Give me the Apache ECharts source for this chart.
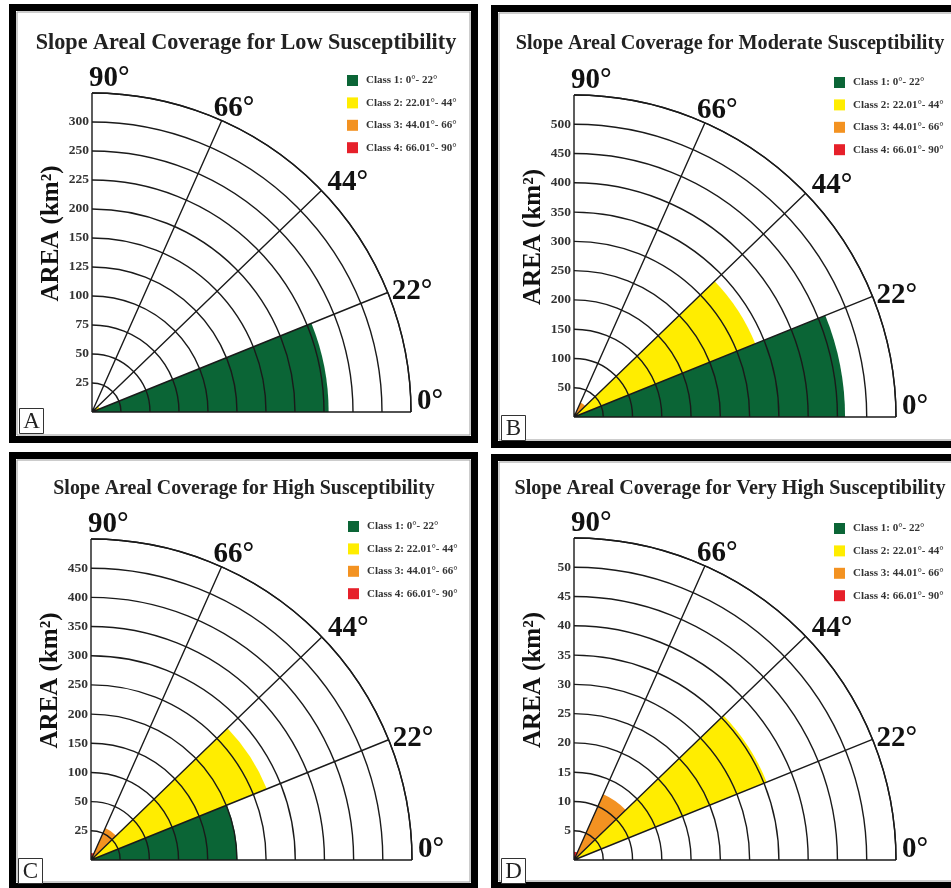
<!DOCTYPE html>
<html>
<head>
<meta charset="utf-8">
<title>Slope Areal Coverage</title>
<script src="https://cdn.jsdelivr.net/npm/echarts@6/dist/echarts.min.js"></script>
<style>
  html, body { margin: 0; padding: 0; background: #ffffff; }
  #chart { width: 951px; height: 888px; }
</style>
</head>
<body>
<div id="chart"></div>
<script>
// ---- data ----------------------------------------------------------------
const classNames = ['Class 1: 0°- 22°', 'Class 2: 22.01°- 44°', 'Class 3: 44.01°- 66°', 'Class 4: 66.01°- 90°'];
const classColors = ['#0b6536', '#ffed00', '#f39221', '#e6202a'];
const classAngles = [[0, 22], [22, 44], [44, 66], [66, 90]];
const spokeAngles = [0, 22, 44, 66, 90];

const panelTitles = [
  'Slope Areal Coverage for Low Susceptibility',
  'Slope Areal Coverage for Moderate Susceptibility',
  'Slope Areal Coverage for High Susceptibility',
  'Slope Areal Coverage for Very High Susceptibility'
];
const panelLetters = ['A', 'B', 'C', 'D'];

// ring values (km²) for each panel, one ring per entry, ring 0 is the origin
const lowTicks = [0, 25, 50, 75, 100, 125, 150, 200, 225, 250, 300];
const moderateTicks = [0, 50, 100, 150, 200, 250, 300, 350, 400, 450, 500];
const highTicks = [0, 25, 50, 100, 150, 200, 250, 300, 350, 400, 450];
const veryHighTicks = [0, 5, 10, 15, 20, 25, 30, 35, 40, 45, 50];

// area (km²) per slope class
const lowArea = [229, 7, 0, 0];
const moderateArea = [463, 334, 27, 0];
const highArea = [201, 275, 30, 6];
const veryHighArea = [0.6, 35.5, 12.3, 1.4];

const ringCount = 11;
const axisLabelText = 'AREA (km²)';

// ---- layout ----------------------------------------------------------------
const panels = [
  { ticks: lowTicks, area: lowArea, cx: 92, cy: 412, r: 319, frame: [9, 4, 478, 443],
    title: { x: 246, y: 32, size: 22.2 }, legend: { x: 347, y: 75 }, box: [19, 408] },
  { ticks: moderateTicks, area: moderateArea, cx: 574, cy: 417, r: 322, frame: [491, 5, 962, 448],
    title: { x: 730, y: 34, size: 20.2 }, legend: { x: 834, y: 77 }, box: [501, 415] },
  { ticks: highTicks, area: highArea, cx: 91, cy: 860, r: 321, frame: [9, 452, 478, 890],
    title: { x: 244, y: 479, size: 19.9 }, legend: { x: 348, y: 521 }, box: [18, 858] },
  { ticks: veryHighTicks, area: veryHighArea, cx: 574, cy: 860, r: 322, frame: [491, 454, 962, 889],
    title: { x: 730, y: 479, size: 20.1 }, legend: { x: 834, y: 523 }, box: [501, 858] }
];

// nudges of the degree labels from the end of each spoke (same order as spokeAngles)
const degreeLabelNudge = [[6, -10], [4, -1], [6, -8], [-8, -12], [-3, -14]];

const serif = '"Liberation Serif", "Times New Roman", serif';
const ink = '#1a1a1a';

// position of an area value on the ring scale of a panel
function toRing(value, ticks) {
  for (let i = 0; i < ticks.length - 1; i++) {
    if (value <= ticks[i + 1]) {
      return i + (value - ticks[i]) / (ticks[i + 1] - ticks[i]);
    }
  }
  const n = ticks.length - 1;
  return n + (value - ticks[n]) / (ticks[n] - ticks[n - 1]);
}

function renderSector(params, api) {
  const cs = params.coordSys;
  const hi = api.coord([api.value(0), api.value(2)]);
  const lo = api.coord([api.value(0), api.value(1)]);
  return {
    type: 'sector',
    shape: { cx: cs.cx, cy: cs.cy, r0: 0, r: hi[2], startAngle: -hi[3], endAngle: -lo[3], clockwise: true },
    style: { fill: api.visual('color') }
  };
}

function renderDegreeLabel(params, api) {
  const pt = api.coord([api.value(0), api.value(1)]);
  const nudge = degreeLabelNudge[params.dataIndex];
  return {
    type: 'text', x: pt[0] + nudge[0], y: pt[1] + nudge[1],
    style: {
      text: api.value(1) + '°', fontFamily: serif, fontWeight: 'bold', fontSize: 29,
      fill: '#111', align: 'left', verticalAlign: 'middle'
    }
  };
}

const option = {
  backgroundColor: '#ffffff',
  animation: false,
  title: [], legend: [], polar: [], angleAxis: [], radiusAxis: [],
  grid: [], xAxis: [], yAxis: [], series: [], graphic: []
};

panels.forEach(function (p, i) {
  option.title.push({
    text: panelTitles[i], left: p.title.x, top: p.title.y, textAlign: 'center', padding: 0,
    textStyle: { fontFamily: serif, fontWeight: 'bold', fontSize: p.title.size, color: '#222' }
  });
  option.legend.push({
    data: classNames, left: p.legend.x, top: p.legend.y, orient: 'vertical', icon: 'rect',
    itemWidth: 11, itemHeight: 11, itemGap: 11.4, padding: 0, selectedMode: false,
    textStyle: { fontFamily: serif, fontWeight: 'bold', fontSize: 11, color: '#333', padding: [0, 0, 0, 3] }
  });
  option.polar.push({ center: [p.cx, p.cy], radius: p.r });
  option.angleAxis.push({
    polarIndex: i, type: 'value', min: 0, max: 90, startAngle: 0, endAngle: 90, clockwise: false, z: 4,
    axisLine: { show: true, lineStyle: { color: ink, width: 1.4 } },
    axisTick: { show: false, customValues: spokeAngles },
    splitLine: { show: true, lineStyle: { color: ink, width: 1.4 } },
    axisLabel: { show: false }
  });
  option.radiusAxis.push({
    polarIndex: i, type: 'value', min: 0, max: ringCount, interval: 1, z: 4,
    axisLine: { show: false }, axisTick: { show: false }, axisLabel: { show: false },
    splitLine: { show: true, lineStyle: { color: ink, width: 1.4 } }
  });
  option.grid.push({ left: p.cx, top: p.cy - p.r, width: 10, height: p.r, containLabel: false });
  option.xAxis.push({ gridIndex: i, type: 'value', show: false });
  option.yAxis.push({
    gridIndex: i, type: 'value', min: 0, max: ringCount, interval: 1,
    axisLine: { show: false }, axisTick: { show: false }, splitLine: { show: false },
    axisLabel: {
      margin: 3, fontFamily: serif, fontWeight: 'bold', fontSize: 13.5, color: '#333',
      formatter: function (v) { return (v >= 1 && v < p.ticks.length) ? String(p.ticks[v]) : ''; }
    },
    name: axisLabelText, nameLocation: 'middle', nameGap: 28,
    nameTextStyle: { fontFamily: serif, fontWeight: 'bold', fontSize: 25, color: '#111', padding: [0, 0, 0, 38] }
  });
  classNames.forEach(function (name, k) {
    option.series.push({
      type: 'custom', name: name, coordinateSystem: 'polar', polarIndex: i, z: 1,
      itemStyle: { color: classColors[k] },
      dimensions: ['ring', 'from', 'to'], encode: { radius: 0, angle: 1 },
      data: [[toRing(p.area[k], p.ticks), classAngles[k][0], classAngles[k][1]]],
      renderItem: renderSector, silent: true
    });
  });
  // degree labels at the outer end of each spoke
  option.series.push({
    type: 'custom', coordinateSystem: 'polar', polarIndex: i, z: 6, silent: true,
    dimensions: ['ring', 'angle'], encode: { radius: 0, angle: 1 },
    data: spokeAngles.map(function (a) { return [ringCount, a]; }),
    renderItem: renderDegreeLabel
  });

  // panel frame and corner letter
  const f = p.frame;
  option.graphic.push({
    type: 'rect', z: 100, silent: true,
    shape: { x: f[0] + 3.5, y: f[1] + 3.5, width: f[2] - f[0] - 7, height: f[3] - f[1] - 7 },
    style: { fill: null, stroke: '#000', lineWidth: 7 }
  });
  option.graphic.push({
    type: 'rect', z: 100, silent: true,
    shape: { x: f[0] + 8, y: f[1] + 8, width: f[2] - f[0] - 16, height: f[3] - f[1] - 16 },
    style: { fill: null, stroke: '#9a9a9a', lineWidth: 1 }
  });
  option.graphic.push({
    type: 'rect', z: 100, silent: true,
    shape: { x: p.box[0] + 0.5, y: p.box[1] + 0.5, width: 24, height: 25 },
    style: { fill: '#fff', stroke: '#333', lineWidth: 1 }
  });
  option.graphic.push({
    type: 'text', z: 101, silent: true, x: p.box[0] + 12.5, y: p.box[1] + 14,
    style: { text: panelLetters[i], fontFamily: serif, fontSize: 23, fill: '#222', align: 'center', verticalAlign: 'middle' }
  });
});

const chart = echarts.init(document.getElementById('chart'), null, { renderer: 'canvas' });
chart.setOption(option);
</script>
</body>
</html>
